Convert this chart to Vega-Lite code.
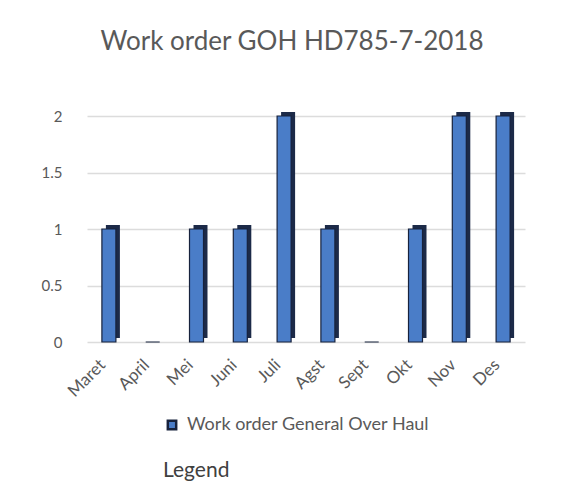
{
  "$schema": "https://vega.github.io/schema/vega-lite/v6.json",
  "width": 438,
  "height": 226,
  "autosize": "none",
  "padding": {"left": 87, "top": 116, "right": 46, "bottom": 140},
  "background": "white",
  "config": {"view": {"stroke": null}, "font": "Lato"},
  "title": {
    "text": "Work order GOH HD785-7-2018",
    "font": "Lato",
    "fontSize": 26,
    "fontWeight": "normal",
    "color": "#595959",
    "offset": 54,
    "dx": -14
  },
  "data": {
    "values": [
      {"month": "Maret", "count": 1},
      {"month": "April", "count": 0},
      {"month": "Mei", "count": 1},
      {"month": "Juni", "count": 1},
      {"month": "Juli", "count": 2},
      {"month": "Agst", "count": 1},
      {"month": "Sept", "count": 0},
      {"month": "Okt", "count": 1},
      {"month": "Nov", "count": 2},
      {"month": "Des", "count": 2}
    ]
  },
  "encoding": {
    "x": {
      "field": "month",
      "type": "nominal",
      "sort": null,
      "title": null,
      "axis": {
        "domain": false,
        "ticks": false,
        "labelAngle": -45,
        "labelAlign": "right",
        "labelBaseline": "middle",
        "labelPadding": 20,
        "labelOffset": -6,
        "labelFontSize": 17,
        "labelColor": "#595959",
        "labelFont": "Lato"
      }
    },
    "y": {
      "field": "count",
      "type": "quantitative",
      "title": null,
      "scale": {"domain": [0, 2], "nice": false},
      "axis": {
        "values": [0, 0.5, 1, 1.5, 2],
        "format": "~g",
        "domain": false,
        "ticks": false,
        "grid": true,
        "gridColor": "#dcdcdc",
        "gridWidth": 1.5,
        "labelPadding": 25,
        "labelFontSize": 15,
        "labelColor": "#595959",
        "labelFont": "Lato"
      }
    }
  },
  "layer": [
    {
      "mark": {"type": "bar", "xOffset": 4, "yOffset": -4, "color": "#1c2a48", "size": 14},
      "encoding": {}
    },
    {
      "mark": {"type": "bar", "size": 14, "stroke": "#17223c", "strokeWidth": 1.2},
      "encoding": {
        "fill": {
          "datum": "Work order General Over Haul",
          "type": "nominal",
          "scale": {"range": ["#4a7dc8"]},
          "legend": {
            "orient": "none",
            "legendX": 76,
            "legendY": 300,
            "symbolType": "square",
            "symbolSize": 70,
            "symbolStrokeColor": "#17223c",
            "symbolStrokeWidth": 2.5,
            "labelFontSize": 18,
            "labelLimit": 400,
            "labelOffset": 6,
            "labelColor": "#595959",
            "labelFont": "Lato",
            "title": "Legend",
            "titleOrient": "bottom",
            "titleAnchor": "start",
            "titlePadding": 26,
            "titleFontSize": 21,
            "titleFontWeight": "normal",
            "titleColor": "#404040",
            "titleFont": "Lato"
          }
        }
      }
    }
  ]
}
